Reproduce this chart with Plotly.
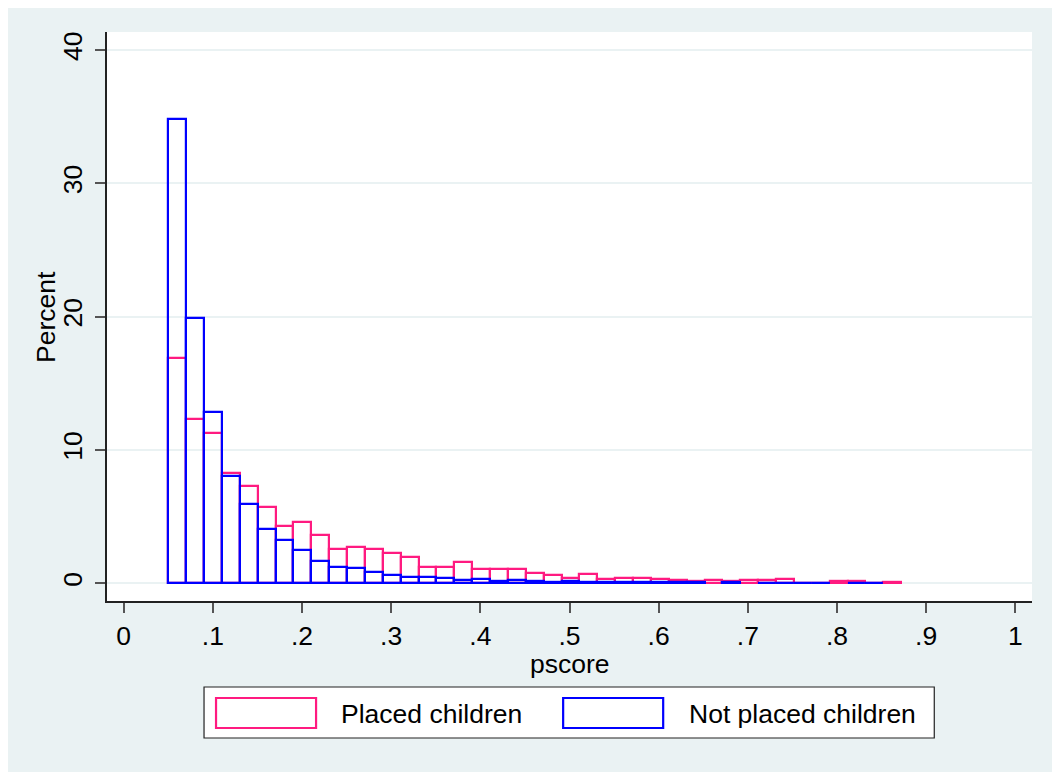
import plotly.graph_objects as go

# ---- data ----
bin_start = 0.05
bin_width = 0.02005
placed_pct = [16.92, 12.36, 11.26, 8.27, 7.28, 5.76, 4.26, 4.61, 3.64, 2.59,
              2.69, 2.59, 2.29, 1.97, 1.20, 1.20, 1.57, 1.07, 1.07, 1.07,
              0.77, 0.65, 0.40, 0.70, 0.35, 0.40, 0.40, 0.35, 0.27, 0.17,
              0.25, 0.15, 0.25, 0.25, 0.30, 0.05, 0.05, 0.20, 0.15, 0.05,
              0.10]
not_placed_pct = [34.83, 19.88, 12.84, 8.02, 5.93, 4.04, 3.26, 2.47, 1.67, 1.20,
                  1.17, 0.85, 0.65, 0.47, 0.47, 0.40, 0.27, 0.32, 0.15, 0.22,
                  0.15, 0.10, 0.15, 0.10, 0.10, 0.10, 0.10, 0.08, 0.08, 0.08,
                  None, 0.08, None, 0.05, 0.05, 0.05, 0.05, None, 0.05, 0.05,
                  None]
series_names = ["Placed children", "Not placed children"]
x_title = "pscore"
y_title = "Percent"
x_tickvals = [0, 0.1, 0.2, 0.3, 0.4, 0.5, 0.6, 0.7, 0.8, 0.9, 1]
x_ticktext = ["0", ".1", ".2", ".3", ".4", ".5", ".6", ".7", ".8", ".9", "1"]
y_tickvals = [0, 10, 20, 30, 40]

PINK = "#FF1A80"
BLUE = "#0000FF"
BG = "#EAF2F3"
FONT = "Liberation Sans, Arial, Helvetica, sans-serif"
FS = 26.5

centers = [bin_start + bin_width * (i + 0.5) for i in range(len(placed_pct))]

fig = go.Figure()
fig.add_trace(go.Bar(x=centers, y=placed_pct, width=bin_width, name=series_names[0],
                     marker=dict(color="rgba(0,0,0,0)", line=dict(color=PINK, width=2.2)),
                     showlegend=False))
fig.add_trace(go.Bar(x=centers, y=not_placed_pct, width=bin_width, name=series_names[1],
                     marker=dict(color="rgba(0,0,0,0)", line=dict(color=BLUE, width=2.2)),
                     showlegend=False))

# page offset (browser default body margin)
OFF = 8
W, H = 1060 - OFF, 772 - OFF
# plot area geometry in page pixels, converted to figure pixels
L, R, T, B = 107 - OFF, 1031.7 - OFF, 32 - OFF, 601 - OFF
pw, ph = R - L, B - T

def px(xpage):
    return (xpage - OFF - L) / pw

def py(ypage):
    return (B - (ypage - OFF)) / ph

shapes = [
    # outer background
    dict(type="rect", xref="paper", yref="paper", x0=px(OFF - 2), x1=px(1060 + 5), y0=py(772 + 5), y1=py(OFF - 2),
         fillcolor=BG, line=dict(width=0), layer="below"),
    # plot region
    dict(type="rect", xref="paper", yref="paper", x0=0, x1=1, y0=0, y1=1,
         fillcolor="white", line=dict(width=0), layer="below"),
    # legend box
    dict(type="rect", xref="paper", yref="paper", x0=px(204), x1=px(934), y0=py(738), y1=py(687),
         fillcolor="white", line=dict(color="#222222", width=1.2)),
    dict(type="rect", xref="paper", yref="paper", x0=px(216), x1=px(316), y0=py(728), y1=py(698),
         fillcolor="white", line=dict(color=PINK, width=2.2)),
    dict(type="rect", xref="paper", yref="paper", x0=px(563), x1=px(663), y0=py(728), y1=py(698),
         fillcolor="white", line=dict(color=BLUE, width=2.2)),
]

annotations = [
    dict(text=series_names[0], xref="paper", yref="paper", x=px(339), y=py(714),
         xanchor="left", yanchor="middle", showarrow=False, font=dict(family=FONT, size=FS, color="black")),
    dict(text=series_names[1], xref="paper", yref="paper", x=px(687), y=py(714),
         xanchor="left", yanchor="middle", showarrow=False, font=dict(family=FONT, size=FS, color="black")),
    dict(text=y_title, xref="paper", yref="paper", x=px(45.5), y=0.5, textangle=-90,
         xanchor="center", yanchor="middle", showarrow=False, font=dict(family=FONT, size=FS, color="black")),
    dict(text=x_title, xref="paper", yref="paper", x=0.5, y=py(664),
         xanchor="center", yanchor="middle", showarrow=False, font=dict(family=FONT, size=FS, color="black")),
]

fig.update_layout(
    width=W, height=H,
    margin=dict(l=L, r=W - R, t=T, b=H - B, autoexpand=False),
    paper_bgcolor="white",
    plot_bgcolor="white",
    barmode="overlay",
    bargap=0,
    font=dict(family=FONT, size=FS, color="black"),
    shapes=shapes,
    annotations=annotations,
    showlegend=False,
)

fig.update_xaxes(
    range=[-0.0187, 1.0187],
    tickvals=x_tickvals, ticktext=x_ticktext,
    ticks="outside", ticklen=10, tickwidth=1.5, tickcolor="#555555",
    showline=True, linecolor="#222222", linewidth=1.5,
    showgrid=False, zeroline=False,
    automargin=False,
)
fig.update_yaxes(
    range=[-1.33, 41.36],
    tickvals=y_tickvals,
    tickangle=-90,
    ticks="outside", ticklen=10, tickwidth=1.5, tickcolor="#555555",
    ticklabelstandoff=3,
    showline=True, linecolor="#222222", linewidth=1.5,
    showgrid=True, gridcolor=BG, gridwidth=2,
    zeroline=False,
    automargin=False,
)

fig.write_html("out.html")
